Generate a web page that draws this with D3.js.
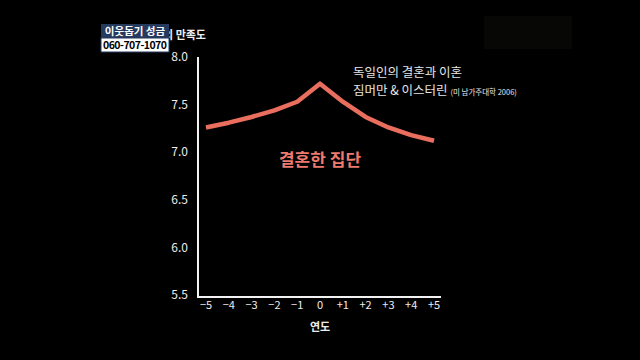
<!DOCTYPE html>
<html>
<head>
<meta charset="utf-8">
<script src="https://cdn.jsdelivr.net/npm/d3@7"></script>
<style>
  html, body { margin: 0; padding: 0; background: #000; }
  svg { display: block; }
  text { font-family: "Noto Sans CJK KR", "Noto Sans", sans-serif; }
</style>
</head>
<body>
<script>
var years = [-5, -4, -3, -2, -1, 0, 1, 2, 3, 4, 5];
var yearLabels = ["\u22125", "\u22124", "\u22123", "\u22122", "\u22121", "0", "+1", "+2", "+3", "+4", "+5"];
var satisfaction = [7.26, 7.31, 7.37, 7.44, 7.53, 7.72, 7.53, 7.37, 7.26, 7.18, 7.12];
var yTicks = [5.5, 6.0, 6.5, 7.0, 7.5, 8.0];

var width = 640, height = 360;
var svg = d3.select("body").append("svg").attr("width", width).attr("height", height);
svg.append("rect").attr("width", width).attr("height", height).attr("fill", "#000");

// faint box top right
svg.append("rect").attr("x", 484).attr("y", 16).attr("width", 88).attr("height", 33).attr("fill", "#070805");

var x = d3.scaleLinear().domain([-5, 5]).range([206, 434]);
var y = d3.scaleLinear().domain([5.5, 8.0]).range([295, 57]);

// axes lines
svg.append("line").attr("x1", 198).attr("x2", 198).attr("y1", 57).attr("y2", 297)
    .attr("stroke", "#f2f2f2").attr("stroke-width", 2);
svg.append("line").attr("x1", 197).attr("x2", 441).attr("y1", 297).attr("y2", 297)
    .attr("stroke", "#f2f2f2").attr("stroke-width", 2);

// tick labels
svg.append("g").selectAll("text").data(yTicks).enter().append("text")
    .attr("x", 188).attr("y", function(d) { return y(d); }).attr("dy", "0.35em")
    .attr("text-anchor", "end").attr("fill", "#eee").attr("font-size", 12)
    .attr("font-family", "'DejaVu Sans', sans-serif")
    .text(function(d) { return d.toFixed(1); });

svg.append("g").selectAll("text").data(years).enter().append("text")
    .attr("x", function(d) { return x(d); }).attr("y", 305).attr("dy", "0.35em")
    .attr("text-anchor", "middle").attr("fill", "#eee").attr("font-size", 11)
    .attr("font-family", "'DejaVu Sans', sans-serif")
    .text(function(d, i) { return yearLabels[i]; });

svg.append("text").attr("x", 320).attr("y", 327).attr("dy", "0.35em").attr("text-anchor", "middle")
    .attr("fill", "#eee").attr("font-size", 11).attr("font-weight", "bold").text("연도");

svg.append("text").attr("x", 206).attr("y", 35).attr("dy", "0.35em").attr("text-anchor", "end")
    .attr("fill", "#eee").attr("font-size", 11).attr("font-weight", "bold").text("삶의 만족도");

// data line
var line = d3.line().x(function(d, i) { return x(years[i]); }).y(function(d) { return y(d); });
svg.append("path").datum(satisfaction).attr("d", line).attr("fill", "none")
    .attr("stroke", "#ea6e5e").attr("stroke-width", 4.5).attr("stroke-linejoin", "round");

svg.append("text").attr("x", 320).attr("y", 160).attr("dy", "0.35em").attr("text-anchor", "middle")
    .attr("fill", "#ee7a6e").attr("font-size", 17).attr("font-weight", "bold").text("결혼한 집단");

// source annotation
svg.append("text").attr("x", 353).attr("y", 73).attr("dy", "0.35em")
    .attr("fill", "#e6e6e6").attr("font-size", 12.5).text("독일인의 결혼과 이혼");
var src = svg.append("text").attr("x", 353).attr("y", 91).attr("dy", "0.35em")
    .attr("fill", "#e6e6e6").attr("font-size", 12.5);
src.append("tspan").text("짐머만 & 이스터린 ");
src.append("tspan").attr("font-size", 7.5).text("(미 남가주대학 2006)");

// donation box
svg.append("rect").attr("x", 101).attr("y", 24).attr("width", 68).attr("height", 14).attr("fill", "#263a5e");
svg.append("text").attr("x", 135).attr("y", 31).attr("dy", "0.35em").attr("text-anchor", "middle")
    .attr("fill", "#fff").attr("font-size", 10.5).attr("font-weight", "bold").text("이웃돕기 성금");
svg.append("rect").attr("x", 101).attr("y", 38).attr("width", 68).attr("height", 14).attr("fill", "#fff")
    .attr("stroke", "#263a5e").attr("stroke-width", 1);
svg.append("text").attr("x", 135).attr("y", 45).attr("dy", "0.35em").attr("text-anchor", "middle")
    .attr("fill", "#000").attr("font-size", 10.5).attr("font-weight", "bold")
    .attr("font-family", "'DejaVu Sans', sans-serif").attr("textLength", 64).text("060-707-1070");
</script>
</body>
</html>
